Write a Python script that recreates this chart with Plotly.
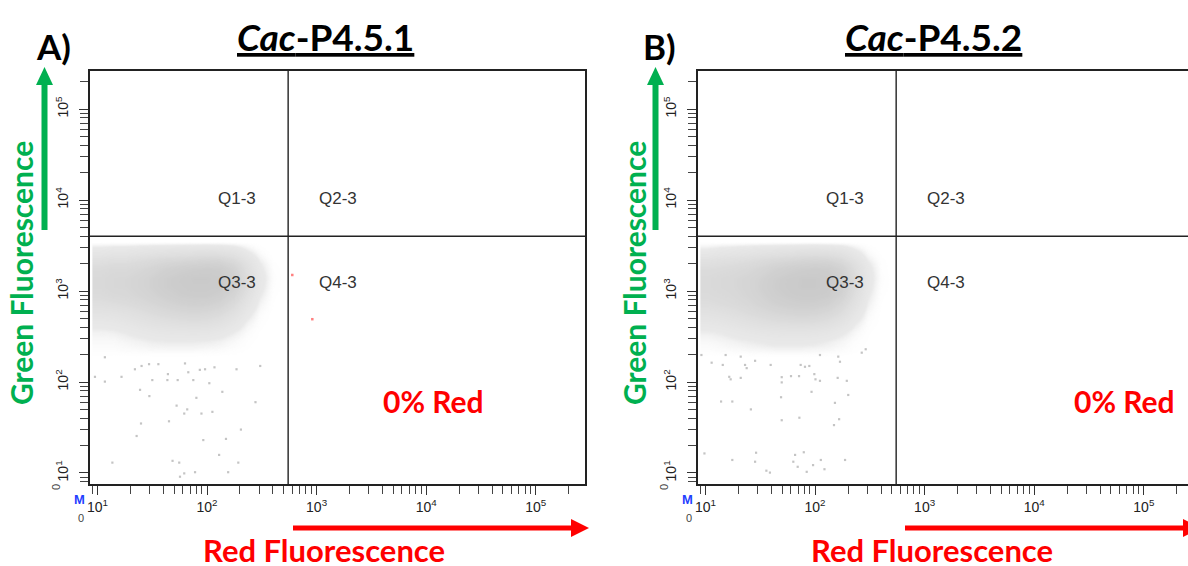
import plotly.graph_objects as go

W, H = 1188, 566

# ---------------- data ----------------
panels = ["A)", "B)"]
titles = ["Cac-P4.5.1", "Cac-P4.5.2"]
quadrant_labels = ["Q1-3", "Q2-3", "Q3-3", "Q4-3"]
red_percent = ["0% Red", "0% Red"]

gate_red = 550      # vertical quadrant gate (red fluorescence)
gate_green = 4000   # horizontal quadrant gate (green fluorescence)

major_ticks = [10, 100, 1000, 10000, 100000]
major_labels = ["10<sup>1</sup>", "10<sup>2</sup>", "10<sup>3</sup>", "10<sup>4</sup>", "10<sup>5</sup>"]

# density grid of the main event cloud (bin edges)
red_bin_edges = [9, 12, 16, 21, 28, 37, 49, 65, 87, 115, 150, 200, 265, 350, 465, 620]
green_bin_edges = [160, 200, 250, 315, 400, 500, 630, 800, 1000, 1260, 1585, 2000, 2500, 3150, 4000]

density_A = [
    [0, 0, 0, 0, 0, 0, 0, 0, 0, 0, 0, 0, 0, 0, 0],
    [0.05, 0.05, 0.06, 0.07, 0.08, 0.08, 0.08, 0.08, 0.07, 0.06, 0.04, 0.02, 0, 0, 0],
    [0.08, 0.08, 0.10, 0.12, 0.14, 0.15, 0.15, 0.15, 0.14, 0.12, 0.08, 0.04, 0.01, 0, 0],
    [0.12, 0.13, 0.16, 0.20, 0.24, 0.26, 0.27, 0.28, 0.27, 0.22, 0.15, 0.07, 0.02, 0, 0],
    [0.20, 0.22, 0.26, 0.32, 0.38, 0.42, 0.45, 0.47, 0.45, 0.38, 0.26, 0.12, 0.04, 0, 0],
    [0.32, 0.34, 0.38, 0.45, 0.52, 0.58, 0.62, 0.65, 0.62, 0.55, 0.40, 0.20, 0.06, 0.01, 0],
    [0.45, 0.48, 0.52, 0.58, 0.65, 0.72, 0.77, 0.80, 0.78, 0.72, 0.55, 0.30, 0.10, 0.02, 0],
    [0.55, 0.60, 0.62, 0.68, 0.75, 0.82, 0.88, 0.90, 0.90, 0.85, 0.70, 0.40, 0.15, 0.03, 0],
    [0.60, 0.65, 0.66, 0.72, 0.80, 0.88, 0.92, 0.95, 0.95, 0.92, 0.80, 0.50, 0.20, 0.04, 0],
    [0.60, 0.65, 0.66, 0.72, 0.80, 0.88, 0.93, 0.96, 0.96, 0.94, 0.82, 0.52, 0.22, 0.05, 0],
    [0.55, 0.60, 0.60, 0.65, 0.72, 0.80, 0.85, 0.88, 0.90, 0.88, 0.75, 0.45, 0.18, 0.04, 0],
    [0.42, 0.45, 0.45, 0.50, 0.55, 0.60, 0.62, 0.65, 0.68, 0.66, 0.55, 0.32, 0.12, 0.02, 0],
    [0.22, 0.25, 0.25, 0.28, 0.30, 0.32, 0.33, 0.35, 0.36, 0.34, 0.28, 0.15, 0.05, 0, 0],
    [0, 0, 0, 0, 0, 0, 0, 0, 0, 0, 0, 0, 0, 0, 0],
]
density_B = [
    [0, 0, 0, 0, 0, 0, 0, 0, 0, 0, 0, 0, 0, 0, 0],
    [0.05, 0.06, 0.07, 0.08, 0.09, 0.10, 0.10, 0.10, 0.09, 0.08, 0.06, 0.03, 0.01, 0, 0],
    [0.08, 0.10, 0.12, 0.14, 0.16, 0.18, 0.18, 0.18, 0.17, 0.14, 0.10, 0.05, 0.02, 0, 0],
    [0.14, 0.16, 0.20, 0.24, 0.28, 0.30, 0.32, 0.32, 0.30, 0.26, 0.18, 0.09, 0.03, 0, 0],
    [0.24, 0.27, 0.32, 0.38, 0.44, 0.48, 0.50, 0.52, 0.50, 0.44, 0.32, 0.16, 0.05, 0.01, 0],
    [0.36, 0.40, 0.45, 0.52, 0.58, 0.64, 0.68, 0.70, 0.68, 0.62, 0.48, 0.26, 0.08, 0.01, 0],
    [0.48, 0.52, 0.56, 0.62, 0.70, 0.77, 0.82, 0.85, 0.84, 0.78, 0.62, 0.36, 0.12, 0.02, 0],
    [0.55, 0.58, 0.62, 0.68, 0.76, 0.85, 0.90, 0.93, 0.93, 0.90, 0.75, 0.45, 0.16, 0.03, 0],
    [0.58, 0.62, 0.65, 0.70, 0.80, 0.88, 0.94, 0.96, 0.96, 0.94, 0.82, 0.52, 0.20, 0.04, 0],
    [0.58, 0.62, 0.65, 0.70, 0.78, 0.87, 0.93, 0.96, 0.96, 0.94, 0.84, 0.55, 0.22, 0.05, 0],
    [0.52, 0.55, 0.58, 0.63, 0.70, 0.78, 0.84, 0.88, 0.90, 0.88, 0.76, 0.48, 0.20, 0.04, 0],
    [0.38, 0.42, 0.44, 0.48, 0.53, 0.58, 0.62, 0.66, 0.68, 0.66, 0.56, 0.34, 0.13, 0.03, 0],
    [0.18, 0.22, 0.24, 0.27, 0.30, 0.32, 0.34, 0.36, 0.37, 0.35, 0.30, 0.17, 0.06, 0.01, 0],
    [0, 0, 0, 0, 0, 0, 0, 0, 0, 0, 0, 0, 0, 0, 0],
]

# sparse events below the main cloud
sparse_red_A = [11.7, 16.6, 11.7, 9.5, 24.5, 29.8, 52.8, 66, 62, 89, 112, 45, 25, 22.8, 92.5,
                204, 277, 138, 80, 149, 129, 13.7, 48.5, 55.8, 77.8, 62, 56.7, 156, 193, 306,
                186, 105, 75, 54, 43.5, 31.7, 36, 29.6, 63, 86, 96, 117, 44, 67.5, 25.3, 22]
sparse_green_A = [187, 114, 101, 114, 82, 70, 55, 50, 45, 45, 47, 37, 35, 25.5, 23,
                  30, 60, 78, 67, 23.7, 15.8, 13, 13.6, 13, 10.2, 9.9, 9.1, 10.2, 13, 150,
                  138, 97, 105, 105, 105, 105, 157, 157, 160, 136, 138, 145, 122, 128, 150, 138]
sparse_red_B = [9.2, 11.4, 14.4, 15.3, 21, 16.5, 17, 21, 23, 23.8, 28.4, 39.4, 49.7, 49.7, 60.4,
                71.5, 74, 81, 88.7, 98.6, 101, 111, 161, 195, 93, 201, 49, 13.9, 17.6, 26,
                49.7, 72, 152, 166, 149, 9.8, 17.6, 29, 28.4, 65.8, 79, 63.4, 69.5, 96, 113,
                122, 188, 84, 36, 38.8, 267, 290, 163, 169, 111]
sparse_green_B = [198, 163, 154, 198, 190, 114, 107, 111, 154, 142, 171, 154, 113, 99, 116,
                  116, 154, 147, 150, 122, 107, 103, 111, 103, 78, 72, 68, 61, 61, 50,
                  38, 40.5, 59, 39, 33.6, 16.4, 13.9, 16.7, 13.3, 15.8, 16.9, 13.3, 11.7, 12.2, 13.9,
                  11, 13.9, 10.3, 10.6, 10.1, 210, 229, 190, 167, 198]

# red (Q4) events in panel A
q4_red_A = [600, 914]
q4_green_A = [1500, 490]

# ---------------- figure ----------------
fig = go.Figure()

grey_scale = [[0, "rgba(255,255,255,0)"], [0.15, "rgba(228,228,228,0.8)"], [1, "rgb(200,200,200)"]]
axis_pairs = [("x", "y"), ("x2", "y2")]
densities = [density_A, density_B]
sparse = [(sparse_red_A, sparse_green_A), (sparse_red_B, sparse_green_B)]

for (xa, ya), dens, (sx, sy) in zip(axis_pairs, densities, sparse):
    fig.add_trace(go.Heatmap(x=red_bin_edges, y=green_bin_edges, z=dens, zmin=0, zmax=1,
                             colorscale=grey_scale, showscale=False, zsmooth="best",
                             hoverinfo="skip", xaxis=xa, yaxis=ya))
    fig.add_trace(go.Scatter(x=sx, y=sy, mode="markers", xaxis=xa, yaxis=ya,
                             marker=dict(size=2.2, symbol="square", color="#c4c4c4"),
                             hoverinfo="skip", showlegend=False))
    # quadrant gates
    fig.add_trace(go.Scatter(x=[gate_red, gate_red], y=[1, 1e7], mode="lines", xaxis=xa, yaxis=ya,
                             line=dict(color="#222", width=1.4), hoverinfo="skip", showlegend=False))
    fig.add_trace(go.Scatter(x=[1, 1e7], y=[gate_green, gate_green], mode="lines", xaxis=xa, yaxis=ya,
                             line=dict(color="#222", width=1.4), hoverinfo="skip", showlegend=False))

fig.add_trace(go.Scatter(x=q4_red_A, y=q4_green_A, mode="markers", xaxis="x", yaxis="y",
                         marker=dict(size=2.5, symbol="square", color="#ff8080"),
                         hoverinfo="skip", showlegend=False))

minor_vals = [m * 10 ** k for k in range(0, 6) for m in range(2, 10)]
tickfont = dict(family="Liberation Sans, Arial", size=14, color="#222")

def xaxis_cfg(domain, rng):
    return dict(type="log", domain=domain, range=rng, showline=True, linecolor="#222",
                linewidth=1.5, mirror=True, ticks="outside", ticklen=9, tickwidth=1.3,
                tickcolor="#333", tickvals=major_ticks, ticktext=major_labels,
                tickfont=tickfont, showgrid=False, zeroline=False, automargin=False,
                minor=dict(ticks="outside", ticklen=8, tickwidth=1.2, tickcolor="#444",
                           tickvals=minor_vals, showgrid=False))

def yaxis_cfg(anchor, mirror):
    return dict(type="log", domain=[82 / H, 495 / H], range=[0.879, 5.418], anchor=anchor,
                showline=True, linecolor="#222", linewidth=1.5, mirror=mirror,
                ticks="outside", ticklen=9, tickwidth=1.3, tickcolor="#333",
                tickvals=major_ticks, ticktext=major_labels, tickangle=-90,
                tickfont=tickfont, showgrid=False, zeroline=False, ticklabelstandoff=6,
                automargin=False,
                minor=dict(ticks="outside", ticklen=8, tickwidth=1.2, tickcolor="#444",
                           tickvals=minor_vals, showgrid=False))

fig.update_layout(
    width=W, height=H, margin=dict(l=0, r=0, t=0, b=0, pad=0, autoexpand=False),
    paper_bgcolor="white", plot_bgcolor="white", showlegend=False,
    xaxis=dict(**xaxis_cfg([90 / W, 585 / W], [0.9325, 5.449]), anchor="y"),
    yaxis=yaxis_cfg("x", True),
    xaxis2=dict(**xaxis_cfg([698 / W, 1.0], [0.9325, 5.403]), anchor="y2"),
    yaxis2=yaxis_cfg("x2", False),
)

def P(px, py):
    return px / W, 1 - py / H

anns = []
shapes = []
label_font = "Lato, Carlito, Calibri, sans-serif"
GREEN = "#00B050"
RED = "#FF0000"

for i, dx in enumerate([0, 608]):
    def add(text, px, py, size, color, angle=0, family=label_font):
        x, y = P(px + dx, py)
        anns.append(dict(text=text, x=x, y=y, xref="paper", yref="paper", showarrow=False,
                         xanchor="center", yanchor="middle", textangle=angle,
                         font=dict(family=family, size=size, color=color)))
    add("<b>" + panels[i] + "</b>", 53 - (2 if i else 0), 46, 35, "black")
    t = titles[i]
    add("<b><u><i>" + t[:3] + "</i>" + t[3:] + "</u></b>", 325, 36, 37, "black")
    for lab, (qx, qy) in zip(quadrant_labels, [(237, 198), (338, 198), (237, 282), (338, 282)]):
        add(lab, qx, qy, 17, "#333", family="Liberation Sans, Arial")
    add("<b>" + red_percent[i] + "</b>", 433 + (83 if i else 0), 401, 30, RED)
    add("<b>Green Fluorescence</b>", 21 + (5 if i else 0), 273, 30, GREEN, angle=-90)
    add("<b>Red Fluorescence</b>", 324, 550, 31, RED)
    add("<b>M</b>", 79, 499, 13, "#1f3fff", family="Liberation Sans, Arial")
    add("0", 81, 518, 11, "#444", family="Liberation Sans, Arial")
    add("0", 56, 487, 11, "#444", angle=-90, family="Liberation Sans, Arial")

    # green arrow
    gx = 44.5 + dx + (3 if i else 0)
    x0, y0 = P(gx, 230)
    x1, y1 = P(gx, 84)
    shapes.append(dict(type="line", xref="paper", yref="paper", x0=x0, y0=y0, x1=x1, y1=y1,
                       line=dict(color=GREEN, width=6)))
    a = P(gx - 8.5, 85); b = P(gx + 8.5, 85); c = P(gx, 67)
    shapes.append(dict(type="path", xref="paper", yref="paper",
                       path=f"M {a[0]},{a[1]} L {b[0]},{b[1]} L {c[0]},{c[1]} Z",
                       fillcolor=GREEN, line=dict(color=GREEN, width=0)))
    # red arrow
    rx0 = 293 + dx + (4 if i else 0)
    rx1 = 572 + dx + (4 if i else 0)
    x0, y0 = P(rx0, 528)
    x1, y1 = P(rx1, 528)
    shapes.append(dict(type="line", xref="paper", yref="paper", x0=x0, y0=y0, x1=x1, y1=y1,
                       line=dict(color=RED, width=5)))
    a = P(rx1 - 1, 519); b = P(rx1 - 1, 537); c = P(rx1 + 17, 528)
    shapes.append(dict(type="path", xref="paper", yref="paper",
                       path=f"M {a[0]},{a[1]} L {b[0]},{b[1]} L {c[0]},{c[1]} Z",
                       fillcolor=RED, line=dict(color=RED, width=0)))

fig.update_layout(annotations=anns, shapes=shapes)
fig.write_html("out.html", config={"displayModeBar": False},
               post_script="document.body.style.margin='0px';")
